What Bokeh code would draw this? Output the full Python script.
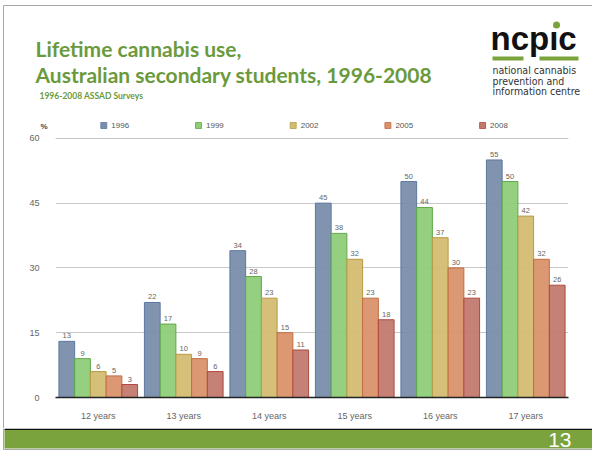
from bokeh.plotting import figure
from bokeh.layouts import column
from bokeh.models import ColumnDataSource, FactorRange, Range1d, FixedTicker, Span
from bokeh.transform import dodge
from bokeh.core.properties import value
from bokeh.embed import file_html
from bokeh.resources import INLINE

# ---- data ----
ages = ["12 years", "13 years", "14 years", "15 years", "16 years", "17 years"]
years = ["1996", "1999", "2002", "2005", "2008"]
v1996 = [13, 22, 34, 45, 50, 55]
v1999 = [9, 17, 28, 38, 44, 50]
v2002 = [6, 10, 23, 32, 37, 42]
v2005 = [5, 9, 15, 23, 30, 32]
v2008 = [3, 6, 11, 18, 23, 26]
y_ticks = [0, 15, 30, 45, 60]

title1 = "Lifetime cannabis use,"
title2 = "Australian secondary students, 1996-2008"
subtitle = "1996-2008 ASSAD Surveys"
logo_lines = ["national cannabis", "prevention and", "information centre"]
page_no = "13"

series = [v1996, v1999, v2002, v2005, v2008]
fills = ["#7a8eab", "#8ecd78", "#d3bc72", "#d9926a", "#c27a6e"]
lines = ["#5c789e", "#5fa84a", "#b89a45", "#c36c41", "#b0483e"]
green = "#6b9a3c"
bar_green = "#7aa33e"
frame_gray = "#a8a8a8"

W = 592
H_TOP, H_CHART, H_BOT = 132, 296, 23
BASE_FIX = 0.32  # em offset observed for alphabetic baseline


def panel(h):
    f = figure(width=W, height=h, x_range=Range1d(0, W), y_range=Range1d(h, 0),
               output_backend="svg", toolbar_location=None, min_border=0,
               frame_align=False)
    f.axis.visible = False
    f.grid.visible = False
    f.outline_line_color = None
    f.background_fill_color = "white"
    f.border_fill_color = "white"
    return f


def txt(f, x, y, t, size, color, font="Liberation Sans", style="normal", align="left"):
    px = float(size.replace("px", ""))
    f.text(x=[x], y=[y - BASE_FIX * px], text=[t], text_font=value(font), text_font_size=size,
           text_color=color, text_font_style=style, text_align=align,
           text_baseline="alphabetic")


# ---------------- top panel: titles, logo, legend ----------------
top = panel(H_TOP)
top.segment(x0=[3, 3], y0=[5, 5], x1=[W, 3], y1=[5, H_TOP], line_color=frame_gray, line_width=1)
txt(top, 35, 55, title1, "21px", green, font="Lato", style="bold")
txt(top, 35, 81, title2, "21px", green, font="Lato", style="bold")
txt(top, 39, 98, subtitle, "8.5px", green, font="Lato", style="bold")

# logo
txt(top, 490, 49, "ncp\u0131c", "33px", "#111111", style="bold")
top.scatter(x=[556], y=[24.5], size=7, marker="circle", fill_color=bar_green, line_color=None)
top.quad(left=[492, 539], right=[523, 578], top=[56, 56], bottom=[60, 60],
         fill_color=bar_green, line_color=None)
for i, t in enumerate(logo_lines):
    txt(top, 492, 73 + 10.5 * i, t, "10.5px", "#333333", font="DejaVu Sans Condensed")

# legend
lx0, lstep = 100.3, 94.7
for i, (yr, fc, lc) in enumerate(zip(years, fills, lines)):
    x = lx0 + lstep * i
    top.quad(left=[x], right=[x + 6], top=[122], bottom=[128], fill_color=fc, line_color=lc,
             line_width=0.8)
    txt(top, x + 10.5, 128, yr, "8px", "#555555")
txt(top, 40, 129, "%", "8px", "#444444", style="bold")

# ---------------- chart ----------------
src = ColumnDataSource(dict(age=ages, **{y: s for y, s in zip(years, series)},
                            **{"lbl" + y: [str(v) for v in s] for y, s in zip(years, series)}))

FL, FR = 55, 568
p = figure(width=W, height=H_CHART, x_range=FactorRange(*ages, range_padding=0),
           y_range=Range1d(0, 60.2), output_backend="svg", toolbar_location=None,
           min_border_left=FL, min_border_right=W - FR, min_border_top=5,
           min_border_bottom=31, frame_align=False,
           styles={"background": "linear-gradient(to right, transparent 3px, %s 3px, %s 4px, white 4px)"
                   % (frame_gray, frame_gray)})
p.outline_line_color = None
p.background_fill_color = "white"
p.border_fill_alpha = 0

bw = 0.184
offsets = [-2 * bw, -bw, 0, bw, 2 * bw]
for yr, off, fc, lc in zip(years, offsets, fills, lines):
    p.vbar(x=dodge("age", off, range=p.x_range), top=yr, width=bw, source=src,
           fill_color=fc, line_color=lc, line_width=1, fill_alpha=0.95)
    p.text(x=dodge("age", off, range=p.x_range), y=yr, text="lbl" + yr, source=src,
           text_align="center", text_baseline="bottom", y_offset=-3,
           text_font=value("Liberation Sans"), text_font_size="7.5px", text_color="#666666")

p.yaxis.ticker = FixedTicker(ticks=y_ticks)
p.yaxis.axis_line_color = None
p.yaxis.major_tick_line_color = None
p.yaxis.minor_tick_line_color = None
p.yaxis.major_label_standoff = 10
p.yaxis.major_label_text_font = "Liberation Sans"
p.yaxis.major_label_text_font_size = "9px"
p.yaxis.major_label_text_color = "#666666"

p.xaxis.axis_line_color = "#222222"
p.xaxis.axis_line_width = 1.5
p.xaxis.major_tick_line_color = None
p.xaxis.minor_tick_line_color = None
p.xaxis.major_label_standoff = 7
p.xaxis.major_label_text_font = "Liberation Sans"
p.xaxis.major_label_text_font_size = "9px"
p.xaxis.major_label_text_color = "#666666"

p.xgrid.grid_line_color = None
p.ygrid.ticker = FixedTicker(ticks=y_ticks[1:])
p.ygrid.grid_line_color = "#c8c8c8"
p.ygrid.grid_line_width = 1
p.add_layout(Span(location=y_ticks[-1], dimension="width", line_color="#c8c8c8",
                  line_width=1, level="underlay"))

# ---------------- bottom bar ----------------
bot = panel(H_BOT)
bot.quad(left=[4], right=[W], top=[0], bottom=[1.6], fill_color="#111111", line_color=None)
bot.quad(left=[4], right=[W], top=[1.6], bottom=[20], fill_color=bar_green, line_color=None)
bot.segment(x0=[3, 3], y0=[0, 21], x1=[3, W], y1=[21, 21], line_color=frame_gray, line_width=1)
txt(bot, 571, 18.5, page_no, "21px", "white", align="right")

layout = column(top, p, bot, spacing=0)
open("out.html", "w").write(file_html(layout, INLINE))
